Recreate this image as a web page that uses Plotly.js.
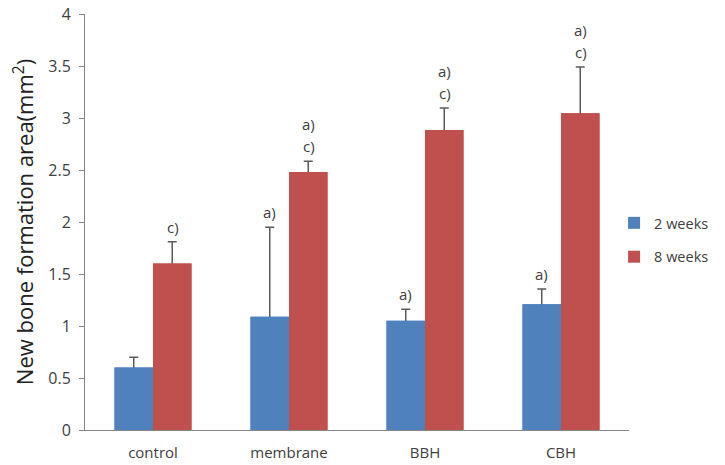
<!DOCTYPE html>
<html>
<head>
<meta charset="utf-8">
<script src="https://cdn.plot.ly/plotly-3.0.1.min.js"></script>
<style>html,body{margin:0;padding:0;background:#fff;}#chart{width:725px;height:465px;}</style>
</head>
<body>
<div id="chart"></div>
<script>
const categories = ["control", "membrane", "BBH", "CBH"];
const weeks2 = [0.60, 1.09, 1.05, 1.21];
const weeks2Err = [0.10, 0.86, 0.11, 0.145];
const weeks8 = [1.60, 2.48, 2.885, 3.045];
const weeks8Err = [0.21, 0.105, 0.21, 0.445];
const labels2 = [[], ["a)"], ["a)"], ["a)"]];
const labels8 = [["c)"], ["a)", "c)"], ["a)", "c)"], ["a)", "c)"]];

const fontFam = "Open Sans, Liberation Sans, Arial, sans-serif";
const textCol = "#404040";
const blue = "#4F81BD", red = "#C0504D";

function errCfg(arr) {
  return {type: "data", symmetric: true, array: arr,
          color: "#5a5a5a", thickness: 1.5, width: 4.5};
}

const traces = [
  {type: "bar", name: "2 weeks", x: categories, y: weeks2, error_y: errCfg(weeks2Err),
   marker: {color: blue}, legendgroup: "g1", offsetgroup: "a"},
  {type: "bar", name: "8 weeks", x: categories, y: weeks8, error_y: errCfg(weeks8Err),
   marker: {color: red}, legendgroup: "g2", offsetgroup: "b"},
  // same bars drawn again on top so only the upper half of each error bar shows
  {type: "bar", name: "2 weeks", x: categories, y: weeks2, showlegend: false,
   marker: {color: blue}, legendgroup: "g1", offsetgroup: "a"},
  {type: "bar", name: "8 weeks", x: categories, y: weeks8, showlegend: false,
   marker: {color: red}, legendgroup: "g2", offsetgroup: "b"}
];

const annotations = [];
function addLabels(lines, cat, yTop, xshift) {
  const n = lines.length;
  lines.forEach((t, j) => {
    const k = n - 1 - j; // position counted from the bottom
    annotations.push({x: cat, y: yTop, xref: "x", yref: "y", text: t, showarrow: false,
      xshift: xshift, yshift: 3 + k * 22, yanchor: "bottom",
      font: {family: fontFam, size: 15, color: textCol}});
  });
}
categories.forEach((c, i) => {
  addLabels(labels2[i], c, weeks2[i] + weeks2Err[i], -19.5);
  addLabels(labels8[i], c, weeks8[i] + weeks8Err[i], 19.5);
});

const layout = {
  width: 725, height: 465,
  margin: {l: 85, r: 96, t: 14, b: 35, pad: 0, autoexpand: false},
  paper_bgcolor: "#fff", plot_bgcolor: "#fff",
  barmode: "group", bargap: 0.434, bargroupgap: 0,
  showlegend: true,
  legend: {xref: "container", yref: "container", x: 0.847, xanchor: "left", y: 0.555, yanchor: "top",
    font: {family: fontFam, size: 14.5, color: textCol}, itemwidth: 30,
    traceorder: "grouped", tracegroupgap: 12, bgcolor: "rgba(0,0,0,0)"},
  xaxis: {showline: true, linecolor: "#868686", linewidth: 1, ticks: "",
    ticklabelstandoff: 9, automargin: false,
    tickfont: {family: fontFam, size: 15, color: textCol}, fixedrange: true},
  yaxis: {range: [0, 4], dtick: 0.5, showgrid: false, zeroline: false,
    showline: true, linecolor: "#868686", linewidth: 1, automargin: false,
    ticks: "outside", ticklen: 5, tickcolor: "#868686", ticklabelstandoff: 5,
    tickfont: {family: fontFam, size: 16, color: textCol},
    title: {text: "New bone formation area(mm<sup>2</sup>)", standoff: 8,
      font: {family: fontFam, size: 22, color: "#222"}}},
  annotations: annotations
};

Plotly.newPlot("chart", traces, layout, {displayModeBar: false, staticPlot: true});
</script>
</body>
</html>
